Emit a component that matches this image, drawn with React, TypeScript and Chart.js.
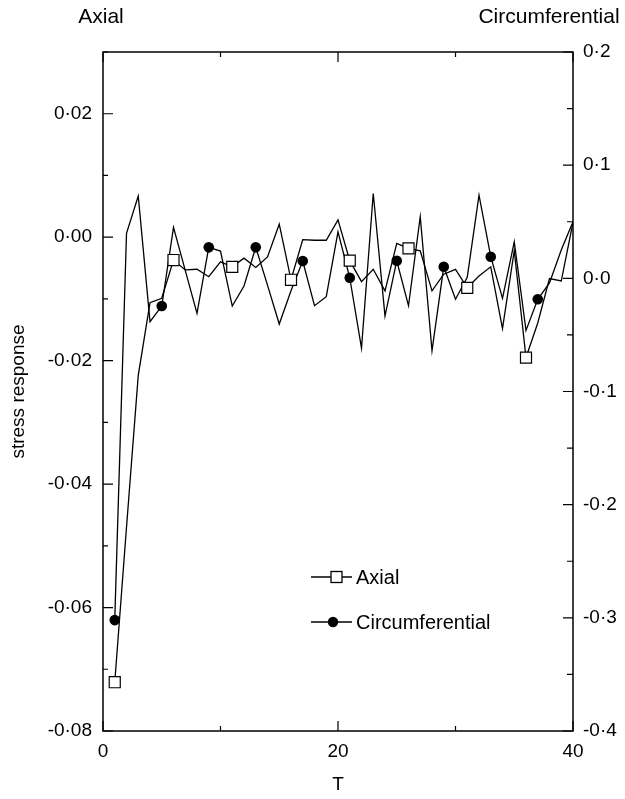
import React, { useEffect, useRef } from "react";
import { Chart, registerables } from "chart.js";

Chart.register(...registerables);

const T = Array.from({ length: 40 }, (_, i) => i + 1);

const axial = [
  -0.0721, -0.047, -0.0224, -0.0106, -0.0099, -0.0037, -0.0053, -0.0052, -0.0064, -0.004,
  -0.0048, -0.0034, -0.0049, -0.0032, 0.0021, -0.0069, -0.0004, -0.0005, -0.0005, 0.0028,
  -0.0038, -0.0072, -0.0052, -0.0087, -0.001, -0.0018, -0.0022, -0.0087, -0.006, -0.0052,
  -0.0082, -0.0063, -0.0048, -0.0148, -0.0022, -0.0195, -0.0139, -0.0067, -0.0071, 0.0024,
];

const circumferential = [
  -0.302, 0.0397, 0.0727, -0.0383, -0.0245, 0.045, 0.007, -0.031, 0.0274, 0.0241,
  -0.0245, -0.0068, 0.0274, -0.006, -0.0404, -0.011, 0.0153, -0.0242, -0.0162, 0.0411,
  0.0005, -0.0616, 0.075, -0.0333, 0.0155, -0.0242, 0.0544, -0.064, 0.0102, -0.0185,
  0.0009, 0.0735, 0.0191, -0.0177, 0.0323, -0.046, -0.0185, -0.004, 0.025, 0.05,
];

const axialMarkerT = [1, 6, 11, 16, 21, 26, 31, 36];
const circMarkerT = [1, 5, 9, 13, 17, 21, 25, 29, 33, 37];

const xTicksMajor = [0, 20, 40];
const leftLabelStep = 0.02;
const rightLabelStep = 0.1;

const FONT = "'Liberation Sans', Arial, sans-serif";
const DOT = "\u00B7";

function fmt(v: number, dec: number) {
  const r = Math.round(v * Math.pow(10, dec)) / Math.pow(10, dec);
  let s = Math.abs(r).toFixed(dec).replace(".", DOT);
  if (r < 0) s = "-" + s;
  return s;
}

function isMultiple(v: number, step: number) {
  const q = v / step;
  return Math.abs(q - Math.round(q)) < 1e-6;
}

const framePlugin = {
  id: "frame",
  afterDraw(chart: any) {
    const { ctx, chartArea: a, scales } = chart;
    ctx.save();
    ctx.strokeStyle = "#000";
    ctx.lineWidth = 1.5;
    ctx.strokeRect(a.left, a.top, a.right - a.left, a.bottom - a.top);
    ctx.lineWidth = 1.2;
    ctx.beginPath();
    const xs = scales.x;
    for (const t of xs.ticks) {
      const px = xs.getPixelForValue(t.value);
      const len = xTicksMajor.includes(t.value) ? 10 : 5;
      ctx.moveTo(px, a.bottom);
      ctx.lineTo(px, a.bottom - len);
      ctx.moveTo(px, a.top);
      ctx.lineTo(px, a.top + len);
    }
    const yl = scales.y;
    for (const t of yl.ticks) {
      const py = yl.getPixelForValue(t.value);
      const len = isMultiple(t.value, leftLabelStep) ? 10 : 5;
      ctx.moveTo(a.left, py);
      ctx.lineTo(a.left + len, py);
    }
    const yr = scales.y2;
    for (const t of yr.ticks) {
      const py = yr.getPixelForValue(t.value);
      const len = isMultiple(t.value, rightLabelStep) ? 10 : 6;
      ctx.moveTo(a.right, py);
      ctx.lineTo(a.right - len, py);
    }
    ctx.stroke();

    ctx.fillStyle = "#000";
    ctx.font = `21px ${FONT}`;
    ctx.textBaseline = "middle";
    ctx.textAlign = "center";
    ctx.fillText("Axial", 101, 17);
    ctx.fillText("Circumferential", 549, 17);

    const items = [
      { label: "Axial", y: 577, style: "rect" },
      { label: "Circumferential", y: 622, style: "circle" },
    ];
    ctx.lineWidth = 1.3;
    ctx.font = `20px ${FONT}`;
    for (const it of items) {
      ctx.strokeStyle = "#000";
      ctx.beginPath();
      ctx.moveTo(311, it.y);
      ctx.lineTo(352, it.y);
      ctx.stroke();
      if (it.style === "rect") {
        ctx.fillStyle = "#fff";
        ctx.fillRect(331, it.y - 5.5, 11, 11);
        ctx.strokeRect(331, it.y - 5.5, 11, 11);
      } else {
        ctx.fillStyle = "#000";
        ctx.beginPath();
        ctx.arc(333, it.y, 5.2, 0, Math.PI * 2);
        ctx.fill();
      }
      ctx.fillStyle = "#000";
      ctx.textAlign = "left";
      ctx.fillText(it.label, 356, it.y + 1);
    }
    ctx.restore();
  },
};

export default function App() {
  const ref = useRef<HTMLCanvasElement | null>(null);
  useEffect(() => {
    if (!ref.current) return;
    const axialData = T.map((t, i) => ({ x: t, y: axial[i] }));
    const circData = T.map((t, i) => ({ x: t, y: circumferential[i] }));
    const chart = new Chart(ref.current, {
      type: "line",
      data: {
        datasets: [
          {
            label: "Axial",
            data: axialData,
            yAxisID: "y",
            borderColor: "#000",
            borderWidth: 1.3,
            backgroundColor: "#fff",
            pointStyle: "rect",
            pointBorderColor: "#000",
            pointBackgroundColor: "#fff",
            pointBorderWidth: 1.2,
            pointRadius: T.map((t) => (axialMarkerT.includes(t) ? 7.8 : 0)),
            tension: 0,
            order: 1,
          },
          {
            label: "Circumferential",
            data: circData,
            yAxisID: "y2",
            borderColor: "#000",
            borderWidth: 1.3,
            backgroundColor: "#000",
            pointStyle: "circle",
            pointBorderColor: "#000",
            pointBackgroundColor: "#000",
            pointBorderWidth: 0,
            pointRadius: T.map((t) => (circMarkerT.includes(t) ? 5.3 : 0)),
            tension: 0,
            order: 2,
          },
        ],
      },
      options: {
        responsive: false,
        animation: false,
        events: [],
        layout: { padding: { top: 52, left: 0, right: 0, bottom: 0 } },
        plugins: { legend: { display: false }, tooltip: { enabled: false } },
        scales: {
          x: {
            type: "linear",
            position: "bottom",
            min: 0,
            max: 40,
            grid: { display: false, drawTicks: false },
            border: { display: false },
            ticks: {
              stepSize: 10,
              padding: 9,
              color: "#000",
              font: { family: FONT, size: 19 },
              maxRotation: 0,
              callback: (v: any) => (xTicksMajor.includes(Number(v)) ? String(v) : ""),
            },
            title: {
              display: true,
              text: "T",
              color: "#000",
              font: { family: FONT, size: 19 },
              padding: { top: 0, bottom: 3 },
            },
            afterFit: (s: any) => {
              s.height = 799 - 731;
            },
          },
          y: {
            type: "linear",
            position: "left",
            min: -0.08,
            max: 0.03,
            grid: { display: false, drawTicks: false },
            border: { display: false },
            ticks: {
              stepSize: 0.01,
              padding: 11,
              color: "#000",
              font: { family: FONT, size: 19 },
              callback: (v: any) => {
                const n = Number(v);
                if (!isMultiple(n, leftLabelStep) || n > 0.025) return "";
                return fmt(n, 2);
              },
            },
            title: {
              display: true,
              text: "stress response",
              color: "#000",
              font: { family: FONT, size: 19 },
              padding: { top: 7, bottom: 0 },
            },
            afterFit: (s: any) => {
              s.width = 103;
            },
          },
          y2: {
            type: "linear",
            position: "right",
            min: -0.4,
            max: 0.2,
            grid: { display: false, drawTicks: false },
            border: { display: false },
            ticks: {
              stepSize: 0.05,
              padding: 10,
              color: "#000",
              font: { family: FONT, size: 19 },
              callback: (v: any) => {
                const n = Number(v);
                if (!isMultiple(n, rightLabelStep)) return "";
                return fmt(n, 1);
              },
            },
            afterFit: (s: any) => {
              s.width = 625 - 573;
            },
          },
        },
      },
      plugins: [framePlugin],
    });
    return () => chart.destroy();
  }, []);
  return (
    <div style={{ position: "absolute", left: 0, top: 0, width: 625, height: 799, background: "#fff" }}>
      <canvas ref={ref} width={625} height={799} style={{ width: 625, height: 799, display: "block" }} />
    </div>
  );
}
